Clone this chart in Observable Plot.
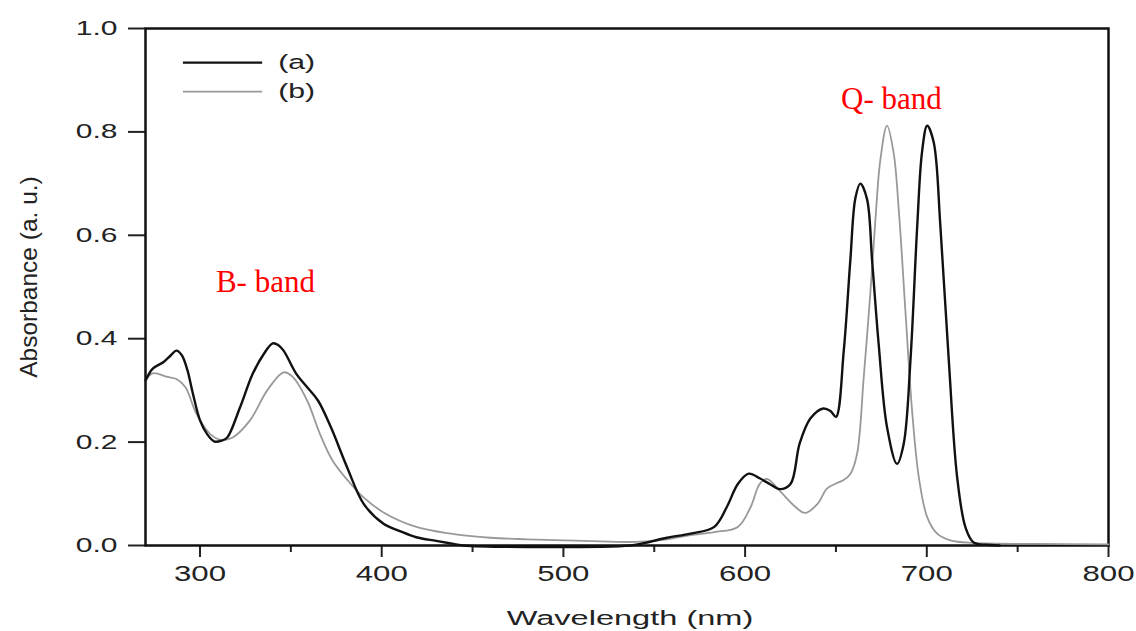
<!DOCTYPE html>
<html><head><meta charset="utf-8">
<script src="https://cdn.jsdelivr.net/npm/d3@7"></script>
<script src="https://cdn.jsdelivr.net/npm/@observablehq/plot@0.6"></script>
<style>body{margin:0;background:#fff}#chart{width:1136px;height:631px}</style>
</head><body><div id="chart"></div>
<script>
// Series (a): black curve
const wavelengthA = [270,274,280,284,287,290,293,296,300,304,308,312,315,322,329,335,340,343,346,353,359,365,372,381,390,401,410,419,430,438,445,537,545,557,570,583,590,596,602,608,614,619,625,630,636,643,647,650,654.3,657.9,660.7,663.4,667.1,669.9,673.5,678.1,683.6,687.3,691,694.7,697.4,700.2,703.8,707.5,712.1,716.7,721.3,725.8,735,740];
const absorbanceA = [0.319,0.342,0.355,0.368,0.377,0.368,0.340,0.295,0.242,0.215,0.201,0.203,0.209,0.267,0.332,0.370,0.391,0.388,0.377,0.332,0.306,0.280,0.229,0.151,0.081,0.042,0.028,0.016,0.009,0.004,0.0,0.0,0.005,0.015,0.023,0.036,0.075,0.119,0.139,0.130,0.118,0.109,0.119,0.197,0.246,0.265,0.260,0.249,0.377,0.551,0.672,0.700,0.670,0.551,0.390,0.229,0.158,0.197,0.358,0.616,0.762,0.812,0.780,0.616,0.358,0.132,0.035,0.006,0.001,0.0];
// Series (b): gray curve
const wavelengthB = [270,274,282,287,292,298,305.5,312,318,327.5,337,346,351,359,366,373,383,390,401,419,438,460,480,500,520,540,557,570,583,596,603,608,612,619,627,633,640,645,650,654,658,661.6,665.3,668.9,671.7,674.4,678.1,681.8,684.6,688.2,691.9,695.6,700.2,705.7,713,726,760,800];
const absorbanceB = [0.319,0.333,0.326,0.322,0.306,0.255,0.216,0.204,0.209,0.242,0.300,0.335,0.326,0.280,0.216,0.164,0.119,0.093,0.064,0.036,0.023,0.015,0.012,0.010,0.008,0.007,0.012,0.020,0.026,0.036,0.074,0.119,0.129,0.106,0.077,0.063,0.081,0.110,0.120,0.126,0.139,0.177,0.326,0.487,0.629,0.745,0.812,0.758,0.648,0.455,0.261,0.132,0.055,0.023,0.010,0.005,0.003,0.002];

const xMajorTicks = [300,400,500,600,700,800];
const xMinorTicks = [350,450,550,650,750];
const yTicks = [0,0.2,0.4,0.6,0.8,1.0];
const legendLabels = ["(a)","(b)"];
const bandLabels = ["B- band","Q- band"];
const bandWavelength = [336,680.5];
const bandAbsorbance = [0.51,0.864];

const rowsA = wavelengthA.map((w,i)=>({wavelength:w, absorbance:absorbanceA[i]}));
const rowsB = wavelengthB.map((w,i)=>({wavelength:w, absorbance:absorbanceB[i]}));
const bands = bandLabels.map((t,i)=>({text:t, wavelength:bandWavelength[i], absorbance:bandAbsorbance[i]}));
const legendColors = ["#111","#999"];
const legendWidths = [2.4,1.8];
const legendYs = [0.934,0.878];

const chart = Plot.plot({
  width:1136, height:631,
  marginLeft:145, marginRight:28, marginTop:28, marginBottom:86,
  style:{fontFamily:"'Liberation Sans', Arial, sans-serif", background:"#fff", color:"#222"},
  x:{domain:[270,800]},
  y:{domain:[0,1]},
  marks:[
    Plot.axisY({ticks:yTicks, tickSize:17, tickPadding:11, tickFormat:d3.format(".1f"), fontSize:20, strokeWidth:2, label:"Absorbance (a. u.)", labelArrow:"none", labelAnchor:"center", labelOffset:117}),
    Plot.axisX({ticks:xMajorTicks, tickSize:12, tickPadding:8, fontSize:22, strokeWidth:2, label:"Wavelength (nm)", labelArrow:"none", labelAnchor:"center", labelOffset:78}),
    Plot.axisX({ticks:xMinorTicks, tickSize:7, strokeWidth:2, tickFormat:()=>"", label:null}),
    Plot.frame({stroke:"#111", strokeWidth:2.5}),
    Plot.line(rowsB, {x:"wavelength", y:"absorbance", stroke:"#999", strokeWidth:1.8, curve:"catmull-rom"}),
    Plot.line(rowsA, {x:"wavelength", y:"absorbance", stroke:"#111", strokeWidth:2.4, curve:"catmull-rom"}),
    Plot.link(legendLabels, {x1:290.6, x2:334.2, y1:(d,i)=>legendYs[i], y2:(d,i)=>legendYs[i], stroke:(d,i)=>legendColors[i], strokeWidth:(d,i)=>legendWidths[i]}),
    Plot.text(legendLabels, {x:343, y:(d,i)=>legendYs[i], text:d=>d, textAnchor:"start", fontSize:19.5, fill:"#222"}),
    Plot.text(bands, {x:"wavelength", y:"absorbance", text:"text", fill:"red", fontSize:31, fontFamily:"'Liberation Serif', 'Times New Roman', serif"})
  ]
});
document.getElementById("chart").appendChild(chart);

// Horizontal stretching of the original's text labels (x/y attributes are em offsets; keep them)
function stretch(sel, sx){
  chart.querySelectorAll(sel).forEach(t=>{
    const tr = t.getAttribute("transform") || "";
    t.setAttribute("transform", tr + ` scale(${sx},1)`);
  });
}
stretch('g[aria-label="x-axis tick label"] text', 1.42);
stretch('g[aria-label="y-axis tick label"] text', 1.5);
// axis titles: place absolutely
function placeTitle(sel, size, transform){
  chart.querySelectorAll(sel).forEach(g=>{
    g.removeAttribute("transform");
    g.querySelectorAll("text").forEach(t=>{
      t.setAttribute("font-size", size); t.setAttribute("text-anchor","middle");
      t.setAttribute("x","0"); t.setAttribute("y","0"); t.removeAttribute("dy"); t.removeAttribute("dx");
      t.setAttribute("transform", transform);
    });
  });
}
placeTitle('g[aria-label="x-axis label"]', "21", "translate(630,625) scale(1.55,1)");
placeTitle('g[aria-label="y-axis label"]', "24.5", "translate(37,277) rotate(-90)");
// legend labels
chart.querySelectorAll('g[aria-label="text"]').forEach((g,gi)=>{ if(gi===0){ g.querySelectorAll("text").forEach(t=>{
  const tr=t.getAttribute("transform")||""; t.setAttribute("transform", tr+" scale(1.55,1)"); }); }});
</script></body></html>
